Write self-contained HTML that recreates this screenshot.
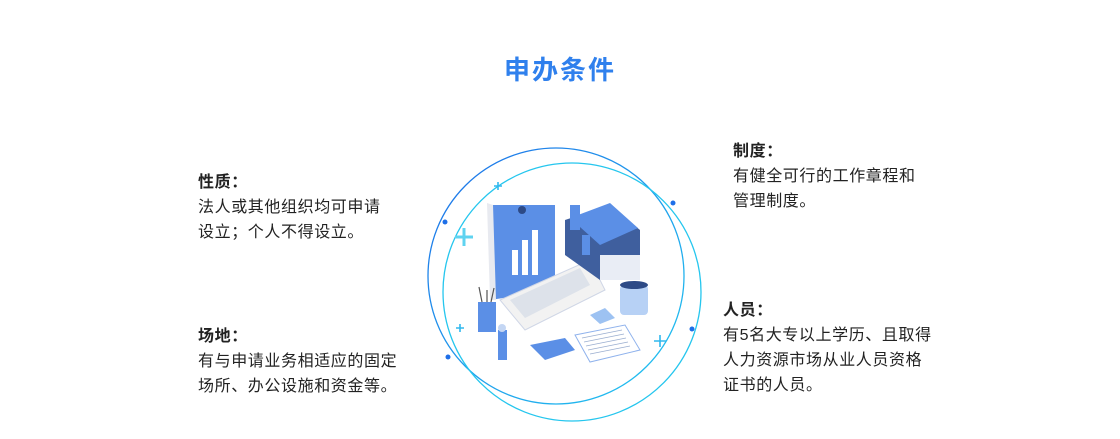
<!DOCTYPE html>
<html><head><meta charset="utf-8"><style>
body{margin:0;width:1120px;height:439px;background:#fff;position:relative;overflow:hidden;font-family:"Liberation Sans","Noto Sans CJK SC",sans-serif;color:#222}
.t{position:absolute;left:0;width:1120px;top:50px;text-align:center;font-size:26px;font-weight:bold;color:#2f80ed;letter-spacing:2px}
.b{position:absolute;font-size:16px;line-height:25px;letter-spacing:0.6px}
.b b{font-weight:bold}
</style></head><body>
<div class="t">申办条件</div>
<div class="b" style="left:198px;top:170px"><b>性质：</b><br>法人或其他组织均可申请<br>设立；个人不得设立。</div>
<div class="b" style="left:198px;top:324px"><b>场地：</b><br>有与申请业务相适应的固定<br>场所、办公设施和资金等。</div>
<div class="b" style="left:733px;top:139px"><b>制度：</b><br>有健全可行的工作章程和<br>管理制度。</div>
<div class="b" style="left:723px;top:298px"><b>人员：</b><br>有5名大专以上学历、且取得<br>人力资源市场从业人员资格<br>证书的人员。</div>
<svg style="position:absolute;left:0;top:0" width="1120" height="439">
<defs><linearGradient id="g" x1="0" y1="0" x2="1" y2="1"><stop offset="0" stop-color="#1e6fe8"/><stop offset="1" stop-color="#22c8f0"/></linearGradient></defs>
<circle cx="556" cy="276" r="128" fill="none" stroke="url(#g)" stroke-width="1.3"/>
<circle cx="572" cy="292" r="129" fill="none" stroke="#25c6ee" stroke-width="1.3"/>
<circle cx="445" cy="222" r="2.5" fill="#1e6fe8"/><circle cx="673" cy="203" r="2.5" fill="#1e6fe8"/>
<circle cx="692" cy="329" r="2.5" fill="#1e6fe8"/><circle cx="448" cy="357" r="2.5" fill="#1e6fe8"/>
<g stroke="#5fd3f0" stroke-width="3"><path d="M455 237h18M464 228v18"/></g>
<g stroke="#30b8ee" stroke-width="1.6"><path d="M494 186h8M498 182v8M456 328h8M460 324v8M654 341h12M660 335v12"/></g>
<polygon points="490,205 555,205 555,290 490,300" fill="#5b8fe6"/>
<polygon points="487,203 490,300 496,300 493,205" fill="#e8eaf0"/>
<polygon points="500,300 590,260 605,290 525,330" fill="#f2f2f2" stroke="#cfd6e6"/>
<polygon points="510,300 580,268 590,285 525,318" fill="#dde2ea"/>
<g fill="#fff"><rect x="512" y="250" width="6" height="25"/><rect x="522" y="240" width="6" height="35"/><rect x="532" y="230" width="6" height="45"/></g>
<polygon points="565,220 610,205 640,230 640,270 600,280 565,255" fill="#3f5f9e"/>
<polygon points="570,218 610,203 638,228 600,245" fill="#5b8fe6"/>
<rect x="570" y="205" width="10" height="25" fill="#5b8fe6"/>
<rect x="600" y="255" width="40" height="25" fill="#e9edf5"/>
<rect x="620" y="285" width="28" height="30" rx="4" fill="#b7d1f5"/>
<ellipse cx="634" cy="285" rx="14" ry="4" fill="#2d4a86"/>
<rect x="478" y="302" width="18" height="30" fill="#5b8fe6"/>
<path d="M482 302l-3-15M487 302l0-12M491 302l3-14" stroke="#555" stroke-width="1.2"/>
<rect x="517" y="210" width="10" height="25" fill="#5b8fe6"/><circle cx="522" cy="210" r="4" fill="#2d4a86"/>
<rect x="498" y="330" width="9" height="30" fill="#5b8fe6"/><circle cx="502" cy="328" r="4" fill="#c4d6f3"/>
<rect x="582" y="235" width="8" height="20" fill="#5b8fe6"/>
<polygon points="530,345 565,338 575,350 545,360" fill="#5b8fe6"/>
<polygon points="575,335 625,325 640,350 590,362" fill="#fff" stroke="#8fb2ec"/>
<g stroke="#9aaed0" stroke-width="0.8"><path d="M582 338l40-8M584 342l40-8M586 346l40-8M588 350l40-8M590 354l40-8"/></g>
<polygon points="590,315 605,308 615,318 600,324" fill="#9dc2f2"/>
</svg>
</body></html>
